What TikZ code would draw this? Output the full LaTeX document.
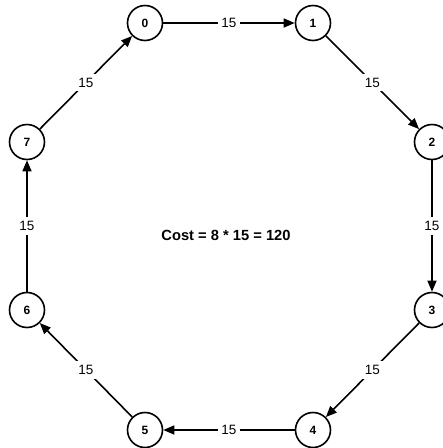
\documentclass[tikz,border=0pt]{standalone}
\usepackage{fontspec}
\setmainfont{Liberation Sans}
\usetikzlibrary{arrows.meta}
\begin{document}
\begin{tikzpicture}[x=1pt,y=-1pt,
  vtx/.style={circle,draw,line width=1.6pt,minimum size=35pt,inner sep=0pt,font=\fontsize{12}{14}\selectfont\bfseries},
  edge/.style={line width=1.6pt,-{Triangle[length=11pt,width=9pt]}},
  wlab/.style={fill=white,inner xsep=3pt,inner ysep=4pt,font=\fontsize{13.5}{15}\selectfont}]
\useasboundingbox[fill=white] (0,0) rectangle (443,448);
\node[vtx] (n0) at (145,23) {0};
\node[vtx] (n1) at (313,23) {1};
\node[vtx] (n2) at (432,142) {2};
\node[vtx] (n3) at (432,310) {3};
\node[vtx] (n4) at (313,430) {4};
\node[vtx] (n5) at (145,430) {5};
\node[vtx] (n6) at (27,310) {6};
\node[vtx] (n7) at (27,142) {7};
\draw[edge] (n0) -- node[wlab]{15} (n1);
\draw[edge] (n1) -- node[wlab]{15} (n2);
\draw[edge] (n2) -- node[wlab]{15} (n3);
\draw[edge] (n3) -- node[wlab]{15} (n4);
\draw[edge] (n4) -- node[wlab]{15} (n5);
\draw[edge] (n5) -- node[wlab]{15} (n6);
\draw[edge] (n6) -- node[wlab]{15} (n7);
\draw[edge] (n7) -- node[wlab]{15} (n0);
\node[font=\fontsize{14.7}{17}\selectfont\bfseries] (cost) at (226,235) {Cost = 8 * 15 = 120};
\end{tikzpicture}
\end{document}
